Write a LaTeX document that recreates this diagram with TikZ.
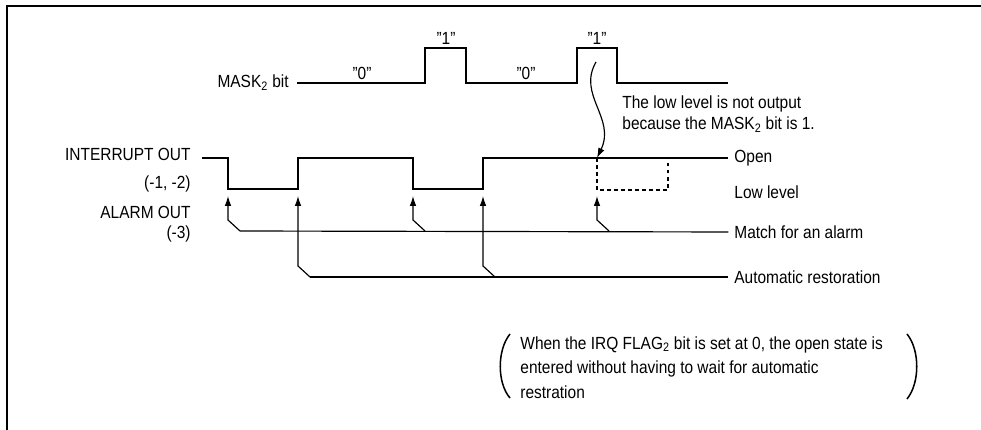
\documentclass[tikz,border=0pt]{standalone}
\usepackage{fontspec}
\setmainfont[FakeStretch=0.88]{Liberation Sans}
\usetikzlibrary{arrows.meta,positioning}

\begin{document}
\begin{tikzpicture}[x=0.03cm,y=-0.03cm,
    wave/.style={line width=1.3pt},
    tag/.style={font=\fontsize{15}{18}\selectfont,inner sep=1pt},
    pin/.style={line width=1pt,-{Latex[length=3mm,width=2mm]}}]
  \useasboundingbox (0,0) rectangle (981,430);
  \draw[line width=1.6pt] (7,430) -- (7,6) -- (981,6);

  % MASK2 bit
  \node[tag,anchor=east] (mask) at (290,83) {MASK\textsubscript{2} bit};
  \draw[wave] (297,83) -- (425,83) -- (425,48) -- (466,48) -- (466,83)
      -- (577,83) -- (577,48) -- (617,48) -- (617,83) -- (728,83);
  \node[tag] (zeroa) at (362,73) {"0"};
  \node[tag] (onea)  at (446,38) {"1"};
  \node[tag] (zerob) at (526,73) {"0"};
  \node[tag] (oneb)  at (597,38) {"1"};

  % outputs
  \node[tag,anchor=east] (intr)  at (192,154) {INTERRUPT OUT};
  \node[tag,anchor=east] (intrn) at (192,184) {(-1, -2)};
  \node[tag,anchor=east] (alarm) at (192,212) {ALARM OUT};
  \node[tag,anchor=east] (alarmn) at (192,234) {(-3)};
  \node[tag,anchor=west] (open) at (733,158) {Open};
  \node[tag,anchor=west] (low)  at (733,192) {Low level};
  \draw[wave,shorten >=4pt] (202,158) -- (228,158) -- (228,189) -- (298,189) -- (298,158)
      -- (413,158) -- (413,189) -- (483,189) -- (483,158) -- (open.west);
  \draw[wave,dashed] (597,158) -- (597,190) -- (668,190) -- (668,158);

  \node[tag,anchor=north west,align=left] (why) at (621,94)
      {The low level is not output\\because the MASK\textsubscript{2} bit is 1.};
  \coordinate (gone) at (597,158);
  \draw[pin] (596,62) .. controls (577,95) and (616,118) .. (gone);

  % causes
  \node[tag,anchor=west] (match) at (733,232) {Match for an alarm};
  \node[tag,anchor=west] (rest)  at (733,277) {Automatic restoration};
  \foreach \x in {228,413,597}
    \draw[pin] (\x+12,231) -- (\x,220) -- (\x,196);
  \foreach \x in {298,483}
    \draw[pin] (\x+12,277) -- (\x,266) -- (\x,196);
  \draw[line width=1pt,shorten >=4pt] (240,231) -- (match.west);
  \draw[line width=1pt,shorten >=4pt] (310,277) -- (rest.west);

  % note
  \node[tag,anchor=north west,align=left,font=\fontsize{15}{21}\selectfont] (note) at (519,335)
      {When the IRQ FLAG\textsubscript{2} bit is set at 0, the open state is\\
       entered without having to wait for automatic\\restration};
  \draw[wave] (510,334) .. controls (497,350) and (497,383) .. (510,398);
  \draw[wave] (907,334) .. controls (920,350) and (920,383) .. (907,399);
\end{tikzpicture}
\end{document}
